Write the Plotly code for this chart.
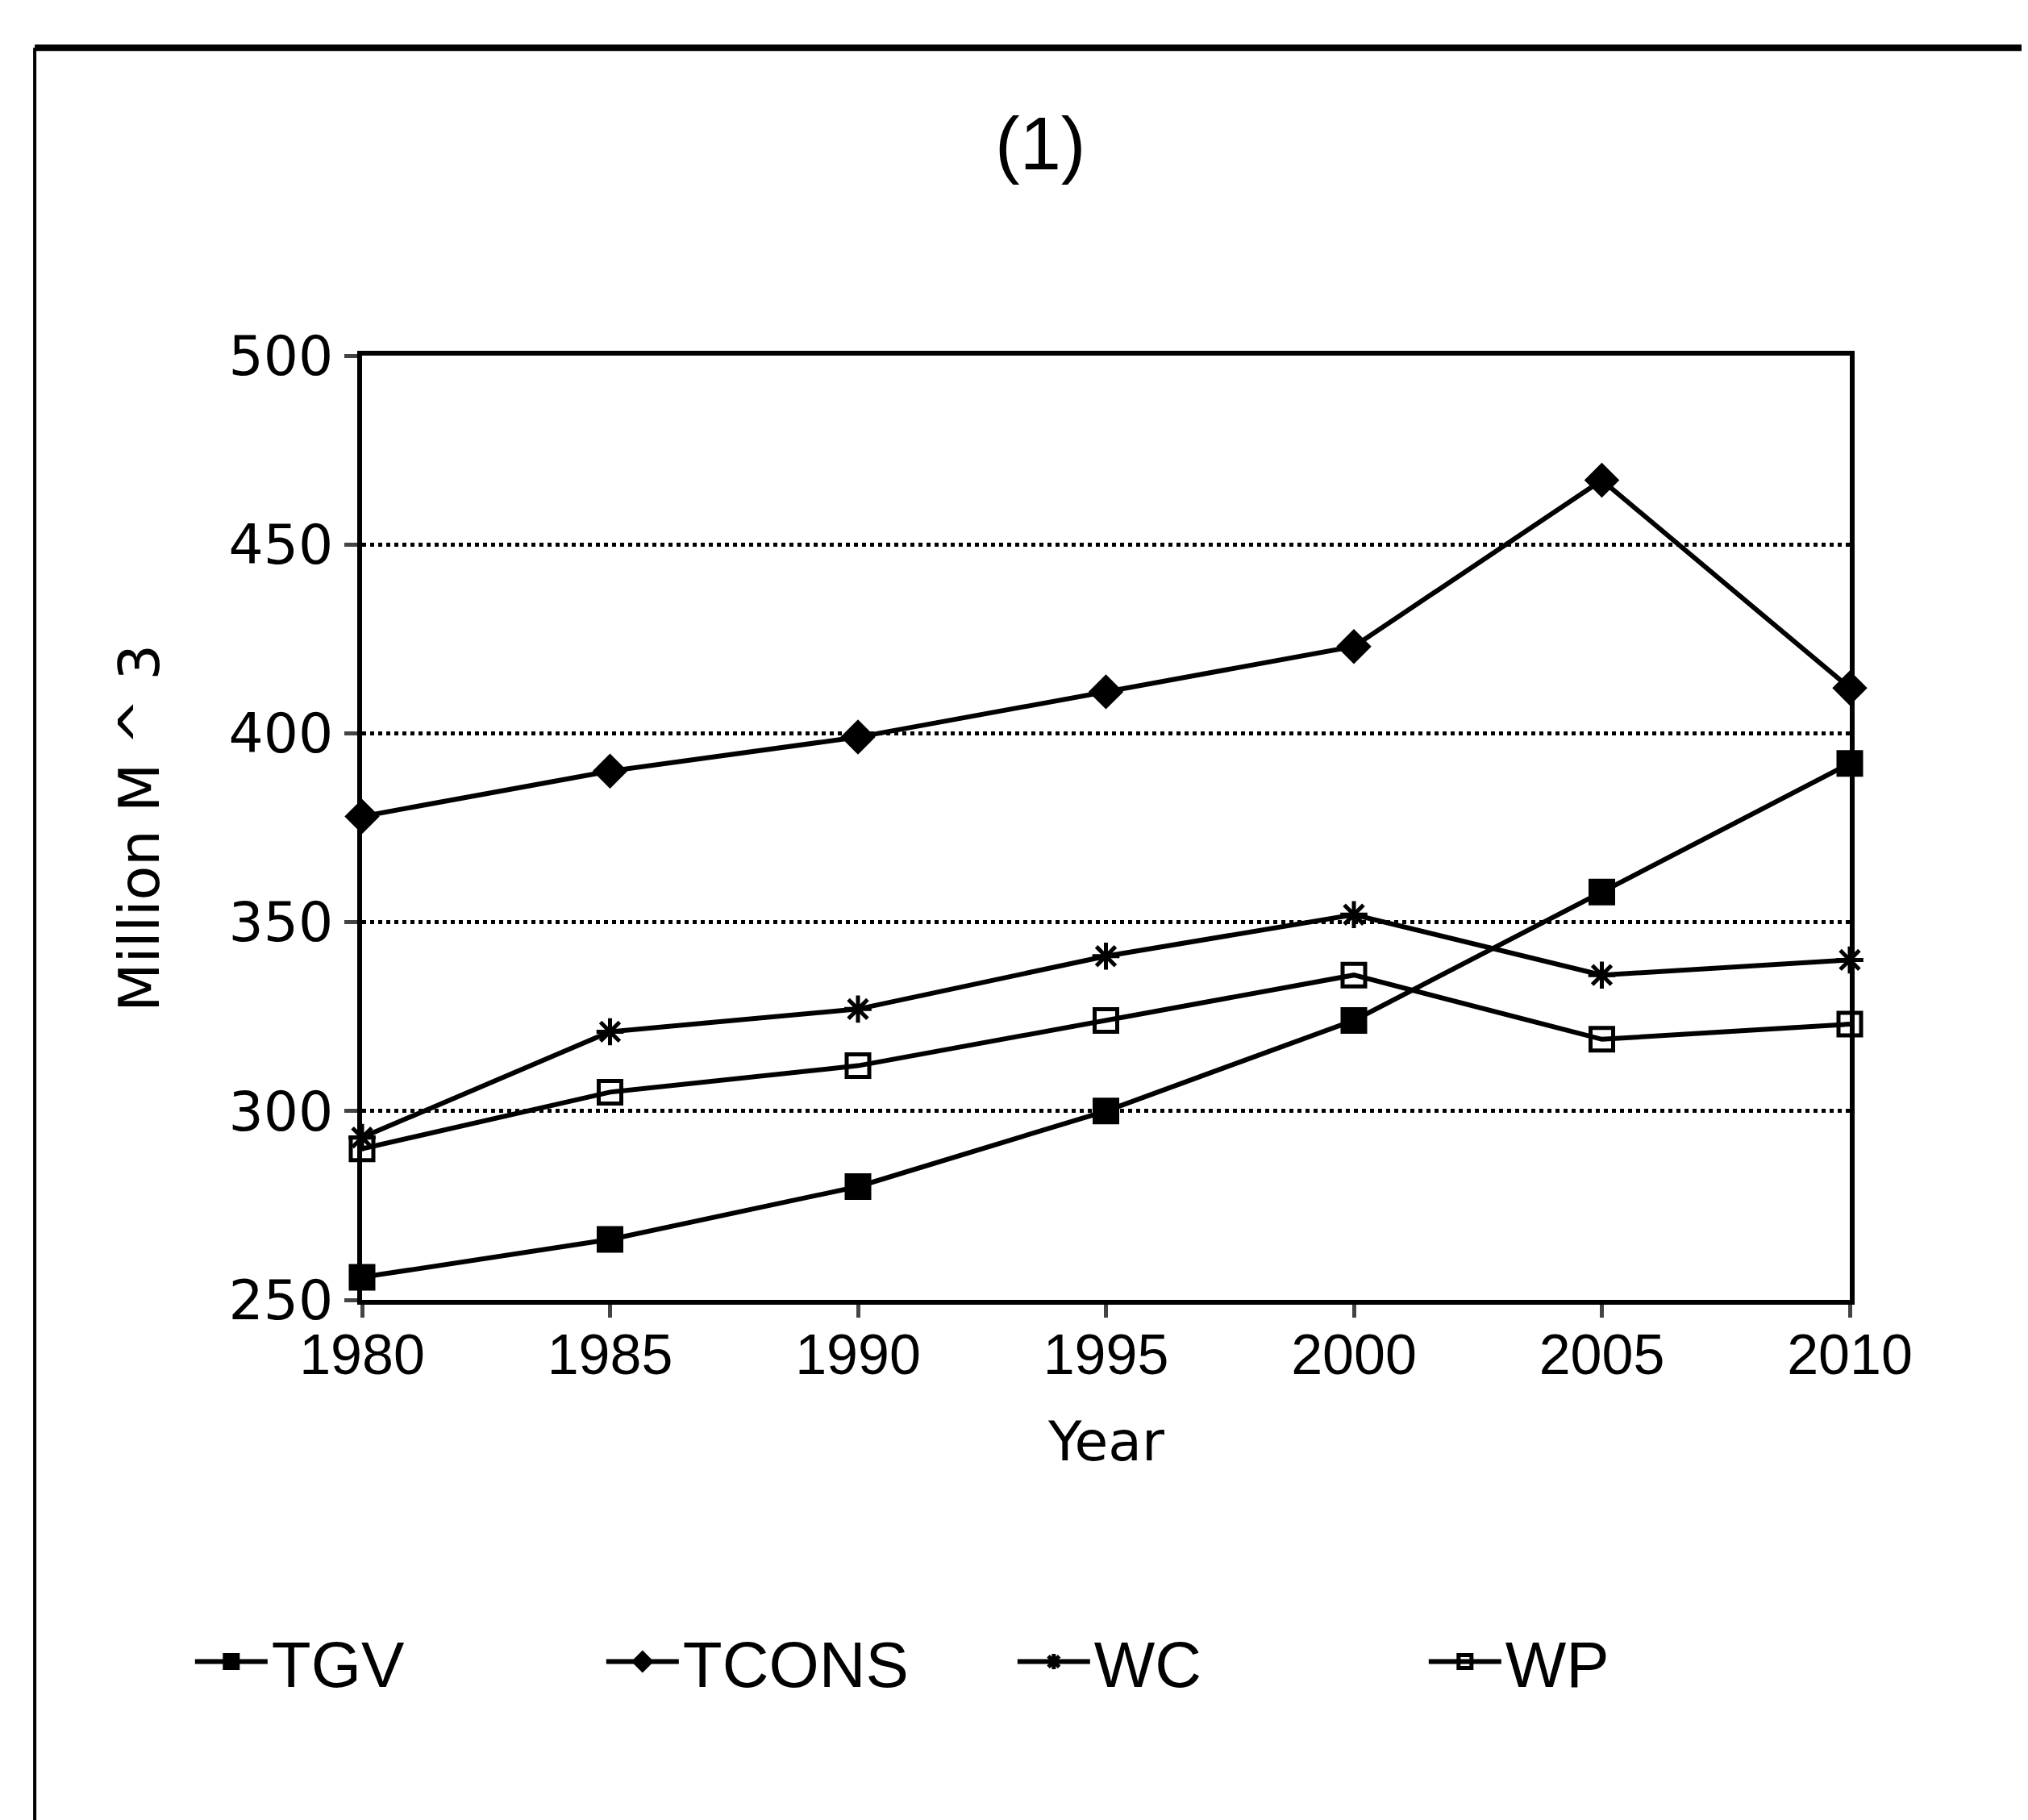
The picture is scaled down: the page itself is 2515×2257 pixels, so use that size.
import plotly.graph_objects as go

# ===============================
# DATA
# ===============================
years = [1980, 1985, 1990, 1995, 2000, 2005, 2010]

tgv = [256, 266, 280, 300, 324, 358, 392]
tcons = [378, 390, 399, 411, 423, 467, 412]
wc = [293, 321, 327, 341, 352, 336, 340]
wp = [290, 305, 312, 324, 336, 319, 323]

series = [
    ("TGV", tgv, "square"),
    ("TCONS", tcons, "diamond"),
    ("WC", wc, "asterisk-open"),
    ("WP", wp, "square-open"),
]

FONT = "Liberation Sans, Arial, sans-serif"
WIDE = "DejaVu Sans, sans-serif"

# ===============================
# FIGURE
# ===============================
fig = go.Figure()

for name, vals, sym in series:
    fig.add_trace(go.Scatter(
        x=years,
        y=vals,
        name=name,
        mode="lines+markers",
        line=dict(color="black", width=6),
        marker=dict(symbol=sym, size=28, color="black",
                    line=dict(color="black", width=5)),
        cliponaxis=False,
    ))

frame = dict(color="black", width=8)

fig.update_layout(
    width=2515,
    height=2257,
    paper_bgcolor="white",
    plot_bgcolor="white",
    font=dict(family=FONT, color="black", size=68),
    margin=dict(l=441, r=229, t=433, b=653),
    showlegend=True,
    legend=dict(
        orientation="h",
        x=-0.115, xanchor="left",
        y=-0.383, yanchor="middle",
        font=dict(family=FONT, size=80),
        itemwidth=90,
        entrywidth=405,
        bgcolor="rgba(0,0,0,0)",
    ),
    annotations=[
        dict(text="(1)", xref="paper", yref="paper",
             x=0.456, y=1.225, yanchor="middle", showarrow=False,
             font=dict(family=FONT, size=92)),
        dict(text="Year", xref="paper", yref="paper",
             x=0.5, y=-0.15, yanchor="middle", showarrow=False,
             font=dict(family=WIDE, size=68)),
        dict(text="Million M ^ 3", xref="paper", yref="paper",
             x=-0.15, y=0.5, xanchor="center", yanchor="middle",
             textangle=-90, showarrow=False,
             font=dict(family=WIDE, size=70)),
    ],
    shapes=[
        # outer frame of the scanned page
        dict(type="line", xref="paper", yref="paper",
             x0=-0.22, x1=1.125, y0=1.326, y1=1.326, line=frame),
        dict(type="line", xref="paper", yref="paper",
             x0=-0.22, x1=-0.22, y0=1.326, y1=-0.56,
             line=dict(color="black", width=4)),
        dict(type="line", xref="paper", yref="paper",
             x0=1.121, x1=1.121, y0=-0.2, y1=-0.56,
             line=dict(color="black", width=4)),
    ],
)

fig.update_xaxes(
    range=[1980, 2010],
    tickvals=years,
    ticks="outside", ticklen=16, tickwidth=5,
    ticklabelstandoff=-14,
    showline=True, linecolor="black", linewidth=6, mirror=True,
    showgrid=False, zeroline=False,
    tickfont=dict(family=FONT, size=70),
)

fig.update_yaxes(
    range=[250, 500],
    tickvals=[250, 300, 350, 400, 450, 500],
    ticks="outside", ticklen=16, tickwidth=5,
    showline=True, linecolor="black", linewidth=6, mirror=True,
    showgrid=True, gridcolor="black", gridwidth=5, griddash="dot",
    zeroline=False,
    tickfont=dict(family=WIDE, size=68),
)

fig.write_html("out.html")
